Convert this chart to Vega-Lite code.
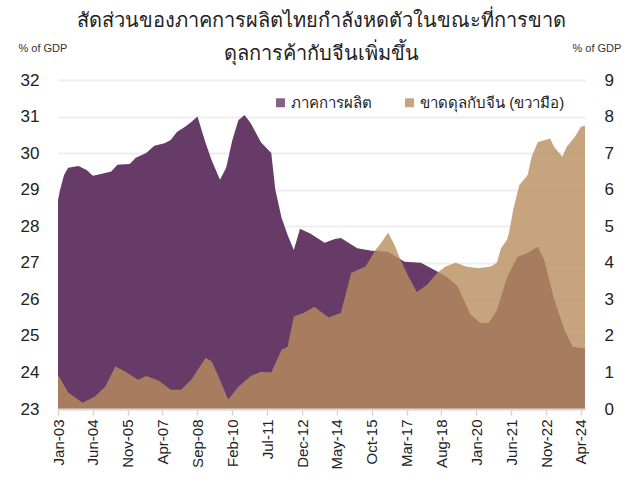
{
  "$schema": "https://vega.github.io/schema/vega-lite/v6.json",
  "width": 527,
  "height": 329,
  "autosize": {"type": "none"},
  "padding": {"left": 58, "top": 80, "right": 57, "bottom": 76},
  "background": "white",
  "config": {"view": {"stroke": null}, "font": "Liberation Sans"},
  "title": {
    "text": ["สัดส่วนของภาคการผลิตไทยกำลังหดตัวในขณะที่การขาด", "ดุลการค้ากับจีนเพิ่มขึ้น"],
    "anchor": "middle",
    "frame": "group",
    "fontSize": 20,
    "fontWeight": "normal",
    "color": "#222222",
    "lineHeight": 33,
    "offset": -22
  },
  "datasets": {
    "mfg": [
      {"d": "2003-01-01", "v": 28.72}, {"d": "2003-02-01", "v": 29.0}, {"d": "2003-04-01", "v": 29.4},
      {"d": "2003-06-01", "v": 29.6}, {"d": "2003-11-01", "v": 29.65}, {"d": "2004-03-01", "v": 29.54},
      {"d": "2004-06-01", "v": 29.38}, {"d": "2004-10-01", "v": 29.43}, {"d": "2005-03-01", "v": 29.5},
      {"d": "2005-06-01", "v": 29.68}, {"d": "2005-12-01", "v": 29.7}, {"d": "2006-03-01", "v": 29.87},
      {"d": "2006-08-01", "v": 30.0}, {"d": "2006-12-01", "v": 30.2}, {"d": "2007-05-01", "v": 30.27},
      {"d": "2007-08-01", "v": 30.36}, {"d": "2007-11-01", "v": 30.58}, {"d": "2008-03-01", "v": 30.72},
      {"d": "2008-06-01", "v": 30.85}, {"d": "2008-09-01", "v": 31.0}, {"d": "2009-01-01", "v": 30.27},
      {"d": "2009-04-01", "v": 29.8}, {"d": "2009-08-01", "v": 29.27}, {"d": "2009-11-01", "v": 29.6},
      {"d": "2010-02-01", "v": 30.36}, {"d": "2010-05-01", "v": 30.9}, {"d": "2010-08-01", "v": 31.04},
      {"d": "2010-11-01", "v": 30.82}, {"d": "2011-04-01", "v": 30.3}, {"d": "2011-09-01", "v": 30.0},
      {"d": "2011-11-01", "v": 29.0}, {"d": "2012-02-01", "v": 28.23}, {"d": "2012-05-01", "v": 27.76},
      {"d": "2012-08-01", "v": 27.35}, {"d": "2012-11-01", "v": 27.93}, {"d": "2013-04-01", "v": 27.8},
      {"d": "2013-11-01", "v": 27.55}, {"d": "2014-04-01", "v": 27.65}, {"d": "2014-07-01", "v": 27.68},
      {"d": "2015-03-01", "v": 27.4}, {"d": "2015-10-01", "v": 27.33}, {"d": "2016-06-01", "v": 27.3},
      {"d": "2017-02-01", "v": 27.03}, {"d": "2017-10-01", "v": 27.0}, {"d": "2018-06-01", "v": 26.76},
      {"d": "2018-11-01", "v": 26.6}, {"d": "2019-04-01", "v": 26.35}, {"d": "2019-10-01", "v": 25.6},
      {"d": "2020-03-01", "v": 25.35}, {"d": "2020-07-01", "v": 25.35}, {"d": "2020-11-01", "v": 25.7},
      {"d": "2021-04-01", "v": 26.6}, {"d": "2021-09-01", "v": 27.16}, {"d": "2022-02-01", "v": 27.27},
      {"d": "2022-07-01", "v": 27.44}, {"d": "2022-10-01", "v": 27.1}, {"d": "2023-03-01", "v": 26.0},
      {"d": "2023-08-01", "v": 25.17}, {"d": "2023-12-01", "v": 24.7}, {"d": "2024-04-01", "v": 24.67},
      {"d": "2024-06-01", "v": 24.67}
    ],
    "def": [
      {"d": "2003-01-01", "v": 0.94}, {"d": "2003-06-01", "v": 0.45}, {"d": "2004-01-01", "v": 0.17},
      {"d": "2004-07-01", "v": 0.34}, {"d": "2004-12-01", "v": 0.61}, {"d": "2005-05-01", "v": 1.16},
      {"d": "2005-10-01", "v": 1.02}, {"d": "2006-04-01", "v": 0.8}, {"d": "2006-08-01", "v": 0.9},
      {"d": "2007-02-01", "v": 0.78}, {"d": "2007-08-01", "v": 0.53}, {"d": "2008-01-01", "v": 0.53},
      {"d": "2008-06-01", "v": 0.8}, {"d": "2009-01-01", "v": 1.4}, {"d": "2009-04-01", "v": 1.3},
      {"d": "2009-08-01", "v": 0.8}, {"d": "2009-12-01", "v": 0.26}, {"d": "2010-05-01", "v": 0.61},
      {"d": "2010-11-01", "v": 0.9}, {"d": "2011-04-01", "v": 1.02}, {"d": "2011-09-01", "v": 1.0},
      {"d": "2012-02-01", "v": 1.62}, {"d": "2012-05-01", "v": 1.7}, {"d": "2012-08-01", "v": 2.53},
      {"d": "2013-01-01", "v": 2.63}, {"d": "2013-06-01", "v": 2.8}, {"d": "2014-01-01", "v": 2.5},
      {"d": "2014-07-01", "v": 2.63}, {"d": "2014-12-01", "v": 3.73}, {"d": "2015-07-01", "v": 3.9},
      {"d": "2015-12-01", "v": 4.36}, {"d": "2016-02-01", "v": 4.5}, {"d": "2016-06-01", "v": 4.82},
      {"d": "2016-09-01", "v": 4.5}, {"d": "2016-12-01", "v": 4.08}, {"d": "2017-04-01", "v": 3.62},
      {"d": "2017-08-01", "v": 3.2}, {"d": "2018-01-01", "v": 3.4}, {"d": "2018-06-01", "v": 3.73},
      {"d": "2018-10-01", "v": 3.9}, {"d": "2019-03-01", "v": 4.0}, {"d": "2019-08-01", "v": 3.9},
      {"d": "2020-02-01", "v": 3.85}, {"d": "2020-08-01", "v": 3.9}, {"d": "2020-11-01", "v": 4.0},
      {"d": "2021-01-01", "v": 4.4}, {"d": "2021-04-01", "v": 4.63}, {"d": "2021-05-01", "v": 4.82},
      {"d": "2021-07-01", "v": 5.45}, {"d": "2021-10-01", "v": 6.13}, {"d": "2022-02-01", "v": 6.4},
      {"d": "2022-04-01", "v": 6.9}, {"d": "2022-07-01", "v": 7.3}, {"d": "2023-01-01", "v": 7.4},
      {"d": "2023-03-01", "v": 7.17}, {"d": "2023-07-01", "v": 6.9}, {"d": "2023-09-01", "v": 7.17},
      {"d": "2024-01-01", "v": 7.44}, {"d": "2024-04-01", "v": 7.72}, {"d": "2024-06-01", "v": 7.75}
    ]
  },
  "encoding": {
    "x": {
      "field": "d",
      "type": "temporal",
      "scale": {"domain": [{"year": 2003, "month": 1, "date": 1}, {"year": 2024, "month": 6, "date": 1}], "nice": false},
      "axis": {
        "title": null,
        "values": [
          {"year": 2003, "month": 1, "date": 1}, {"year": 2004, "month": 6, "date": 1},
          {"year": 2005, "month": 11, "date": 1}, {"year": 2007, "month": 4, "date": 1},
          {"year": 2008, "month": 9, "date": 1}, {"year": 2010, "month": 2, "date": 1},
          {"year": 2011, "month": 7, "date": 1}, {"year": 2012, "month": 12, "date": 1},
          {"year": 2014, "month": 5, "date": 1}, {"year": 2015, "month": 10, "date": 1},
          {"year": 2017, "month": 3, "date": 1}, {"year": 2018, "month": 8, "date": 1},
          {"year": 2020, "month": 1, "date": 1}, {"year": 2021, "month": 6, "date": 1},
          {"year": 2022, "month": 11, "date": 1}, {"year": 2024, "month": 4, "date": 1}
        ],
        "format": "%b-%y",
        "labelAngle": 270,
        "labelAlign": "right",
        "labelBaseline": "middle",
        "labelFontSize": 15,
        "labelColor": "#222222",
        "labelPadding": 4,
        "labelFlush": false,
        "labelOverlap": false,
        "grid": false,
        "ticks": true,
        "tickSize": 6,
        "tickColor": "#d4d4d4",
        "tickWidth": 1.5,
        "domainColor": "#d9d9d9",
        "domainWidth": 2,
        "zindex": 1
      }
    }
  },
  "layer": [
    {
      "data": {"name": "mfg"},
      "mark": {"type": "area", "interpolate": "linear", "clip": true},
      "encoding": {
        "y": {
          "field": "v",
          "type": "quantitative",
          "scale": {"domain": [23, 32], "zero": false, "nice": false},
          "axis": {
            "orient": "left",
            "values": [23, 24, 25, 26, 27, 28, 29, 30, 31, 32],
            "title": "% of GDP",
            "titleAngle": 0,
            "titleAlign": "left",
            "titleBaseline": "middle",
            "titleX": -40,
            "titleY": -32,
            "titleFontSize": 11,
            "titleFontWeight": "normal",
            "titleColor": "#333333",
            "labelFontSize": 17,
            "labelColor": "#222222",
            "labelPadding": 19,
            "ticks": false,
            "domain": false,
            "grid": true,
            "gridColor": "#eeeeee",
            "gridWidth": 2
          }
        },
        "color": {
          "datum": "ภาคการผลิต",
          "type": "nominal",
          "scale": {"domain": ["ภาคการผลิต", "ขาดดุลกับจีน (ขวามือ)"], "range": ["#673B67", "#B88D5E"]},
          "legend": {
            "title": null,
            "orient": "none",
            "direction": "horizontal",
            "legendX": 215,
            "legendY": 15,
            "symbolType": "square",
            "symbolSize": 80,
            "symbolOpacity": 1,
            "labelFontSize": 15,
            "labelColor": "#222222",
            "labelOffset": 3,
            "columnPadding": 30
          }
        }
      }
    },
    {
      "data": {"name": "def"},
      "mark": {"type": "area", "interpolate": "linear", "opacity": 0.8, "clip": true},
      "encoding": {
        "y": {
          "field": "v",
          "type": "quantitative",
          "scale": {"domain": [0, 9], "nice": false},
          "axis": {
            "orient": "right",
            "values": [0, 1, 2, 3, 4, 5, 6, 7, 8, 9],
            "title": "% of GDP",
            "titleAngle": 0,
            "titleAlign": "left",
            "titleBaseline": "middle",
            "titleX": -13,
            "titleY": -32,
            "titleFontSize": 11,
            "titleFontWeight": "normal",
            "titleColor": "#333333",
            "labelFontSize": 17,
            "labelColor": "#222222",
            "labelPadding": 19,
            "ticks": false,
            "domain": false,
            "grid": false
          }
        },
        "color": {"datum": "ขาดดุลกับจีน (ขวามือ)", "type": "nominal"}
      }
    }
  ],
  "resolve": {"scale": {"y": "independent"}, "axis": {"y": "independent"}}
}
